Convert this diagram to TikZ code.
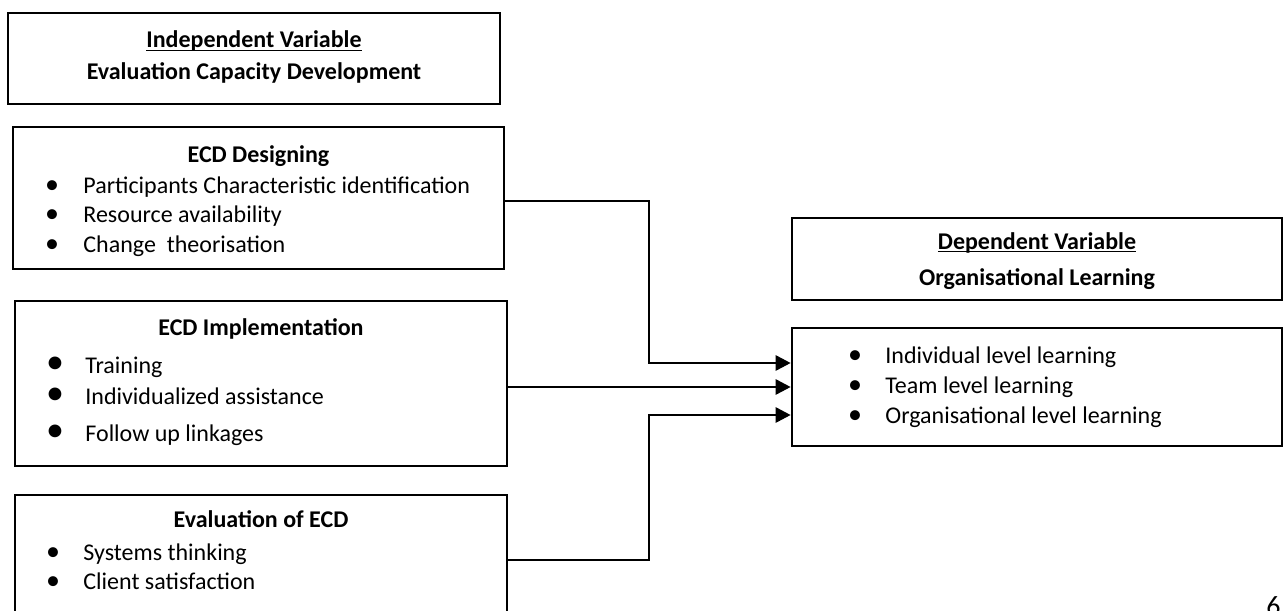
\documentclass[tikz,border=0pt]{standalone}
\usepackage{fontspec}
\setmainfont{Carlito}
\usetikzlibrary{arrows.meta,positioning,calc}

\begin{document}
\begin{tikzpicture}[x=0.5pt,y=-0.5pt,
  font=\fontsize{12}{14.4}\selectfont,
  box/.style={draw,line width=1pt,inner sep=0pt},
  head/.style={anchor=base,inner sep=0pt,font=\fontsize{12}{14.4}\selectfont\bfseries},
  txt/.style={anchor=base west,inner sep=0pt},
  dot/.style={anchor=base,inner sep=0pt,font=\fontsize{14}{14}\selectfont},
  bigdot/.style={anchor=base,inner sep=0pt,font=\fontsize{18}{18}\selectfont},
  arrow/.style={-{Triangle[length=7.5pt,width=7.5pt]},line width=1.35pt}
]
  \useasboundingbox (0,0) rectangle (1283,610);
  \clip (0,0) rectangle (1283,610);

  % left column
  \node[box,minimum width=246pt,minimum height=45.5pt] (indep) at (254,58.5) {};
  \node[head] (indephead) at (254,48) {\underline{\smash{Independent Variable}}};
  \node[head] (indepname) at (254,80) {Evaluation Capacity Development};

  \node[box,minimum width=245.5pt,minimum height=71pt] (design) at (258.5,198) {};
  \node[head] (designhead) at (258.5,162) {ECD Designing};
  \node[dot] (d1dot) at (52,193) {\textbullet};
  \node[txt] (d1) at (83,193) {Participants Characteristic identification};
  \node[dot] (d2dot) at (52,222) {\textbullet};
  \node[txt] (d2) at (83,222) {Resource availability};
  \node[dot] (d3dot) at (52,252) {\textbullet};
  \node[txt] (d3) at (83,252) {Change\ \ theorisation};

  \node[box,minimum width=246pt,minimum height=82.5pt] (impl) at (261,383.5) {};
  \node[head] (implhead) at (261,335) {ECD Implementation};
  \node[bigdot] (i1dot) at (55,373) {\textbullet};
  \node[txt] (i1) at (85,373) {Training};
  \node[bigdot] (i2dot) at (55,404) {\textbullet};
  \node[txt] (i2) at (85,404) {Individualized assistance};
  \node[bigdot] (i3dot) at (55,441) {\textbullet};
  \node[txt] (i3) at (85,441) {Follow up linkages};

  \node[box,minimum width=246pt,minimum height=65pt] (evalecd) at (261,560) {};
  \node[head] (evalhead) at (261,527) {Evaluation of ECD};
  \node[dot] (e1dot) at (53,560) {\textbullet};
  \node[txt] (e1) at (83,560) {Systems thinking};
  \node[dot] (e2dot) at (53,589) {\textbullet};
  \node[txt] (e2) at (83,589) {Client satisfaction};

  % right column
  \node[box,minimum width=245pt,minimum height=41pt] (dep) at (1037,259) {};
  \node[head] (dephead) at (1037,249) {\underline{\smash{Dependent Variable}}};
  \node[head] (depname) at (1037,285) {Organisational Learning};

  \node[box,line width=1.3pt,minimum width=245pt,minimum height=59pt] (outcomes) at (1037,387) {};
  \node[dot] (o1dot) at (855,363) {\textbullet};
  \node[txt] (o1) at (885,363) {Individual level learning};
  \node[dot] (o2dot) at (855,393) {\textbullet};
  \node[txt] (o2) at (885,393) {Team level learning};
  \node[dot] (o3dot) at (855,423) {\textbullet};
  \node[txt] (o3) at (885,423) {Organisational level learning};

  \node[anchor=north west,inner sep=0pt,font=\fontsize{14}{14}\selectfont] (pagenum) at (1266,596) {6};

  % links
  \draw[arrow] ([yshift=-1.5pt]design.east) -- ++(144,0) |- ($(outcomes.west)+(0,-24)$);
  \draw[arrow] (impl.east |- outcomes.west) -- (outcomes.west);
  \draw[arrow] (evalecd.east) -- ++(141,0) |- ($(outcomes.west)+(0,28)$);
\end{tikzpicture}
\end{document}
